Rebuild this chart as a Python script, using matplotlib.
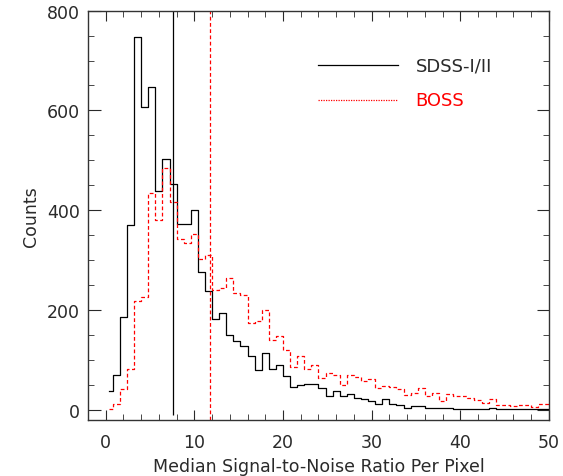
import numpy as np
import matplotlib
matplotlib.use("Agg")
import matplotlib.pyplot as plt
from matplotlib.ticker import MultipleLocator

# histogram of median S/N per pixel, bin width 0.8
bin_width = 0.8
sdss_counts = [38, 70, 186, 371, 748, 606, 647, 438, 502, 453,
               372, 373, 401, 275, 238, 181, 194, 149, 137, 127,
               108, 79, 113, 82, 89, 67, 45, 49, 51, 52,
               44, 28, 38, 27, 32, 24, 22, 18, 12, 22,
               11, 9, 3, 7, 8, 4, 4, 4, 3, 2,
               1, 1, 1, 1, 3, 1, 1, 1, 2, 1,
               1, 1, 1]
boss_counts = [1, 11, 41, 81, 218, 226, 434, 380, 484, 416,
               343, 335, 353, 301, 309, 240, 243, 264, 234, 229,
               174, 178, 200, 139, 147, 119, 85, 107, 81, 89,
               64, 73, 69, 49, 70, 66, 57, 61, 43, 47,
               45, 41, 29, 33, 43, 27, 33, 18, 31, 27,
               27, 24, 20, 14, 21, 10, 10, 7, 9, 10,
               6, 12, 12]
sdss_median = 7.6
boss_median = 11.8
labels = ["SDSS-I/II", "BOSS"]

centers = bin_width / 2 + bin_width * np.arange(len(sdss_counts))

plt.rcParams['font.family'] = ['DejaVu Sans']
txt = '#2a2a2a'
fig = plt.figure(figsize=(5.63, 4.77), dpi=100)
ax = fig.add_axes([0.1563, 0.1174, 0.8187, 0.8581])

ax.step(centers, sdss_counts, where='mid', color='black', lw=0.9)
ax.step(centers, boss_counts, where='mid', color='red', lw=0.9,
        linestyle=(0, (3, 2)))
ax.vlines(sdss_median, -11, 800, color='black', lw=0.9)
ax.vlines(boss_median, -21, 800, color='red', lw=0.9, linestyle=(0, (3, 2)))

ax.set_xlim(-2, 50)
ax.set_ylim(-21, 800)
ax.xaxis.set_major_locator(MultipleLocator(10))
ax.xaxis.set_minor_locator(MultipleLocator(2))
ax.yaxis.set_major_locator(MultipleLocator(200))
ax.yaxis.set_minor_locator(MultipleLocator(50))
ax.tick_params(which='both', direction='in', top=True, right=True,
               labelsize=12.5, colors=txt)
ax.tick_params(axis='x', which='major', length=7, pad=9)
ax.tick_params(axis='x', which='minor', length=4)
ax.tick_params(axis='y', which='major', length=9, pad=6)
ax.tick_params(axis='y', which='minor', length=4.5)
for s in ax.spines.values():
    s.set_linewidth(1.0)
    s.set_color('#333333')

ax.set_xlabel("Median Signal-to-Noise Ratio Per Pixel", fontsize=12.5,
              labelpad=5, color=txt)
ax.set_ylabel("Counts", fontsize=12.5, labelpad=5, color=txt)

# legend drawn by hand
ax.plot([0.499, 0.672], [0.867, 0.867], transform=ax.transAxes,
        color='black', lw=0.9)
ax.plot([0.499, 0.672], [0.782, 0.782], transform=ax.transAxes,
        color='red', lw=0.9, linestyle=(0, (1, 1)))
ax.text(0.711, 0.867, labels[0], transform=ax.transAxes, va='center',
        fontsize=13, color=txt)
ax.text(0.711, 0.782, labels[1], transform=ax.transAxes, va='center',
        fontsize=13, color='red')

fig.savefig("out.png", dpi=100)
